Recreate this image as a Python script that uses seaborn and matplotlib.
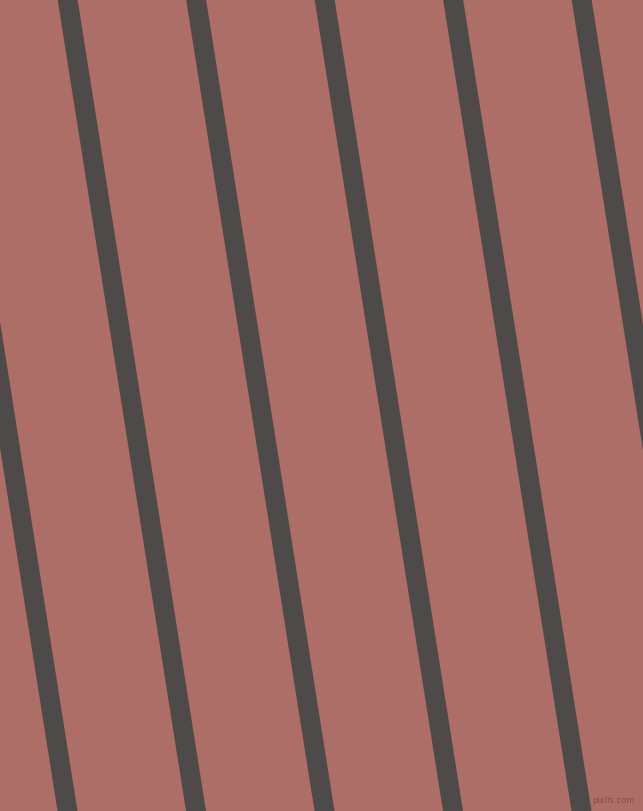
import numpy as np
import pandas as pd
import seaborn as sns
import matplotlib.pyplot as plt

# stripe centre positions (px), at the top and bottom edge
top_x = [-61, 67.5, 196, 324.5, 453, 581.5]
bottom_x = [67.5, 196, 324.5, 453, 581.5, 710]
y_top = 0
y_bottom = 812

bg_color = '#ad6e68'
stripe_color = '#4f4a4a'
half_w = 10  # horizontal half width of a stripe in px

# long form table: each stripe gets its left and right edge at top and bottom,
# the band between min and max is then drawn as the stripe
rows = []
for i, (xt, xb) in enumerate(zip(top_x, bottom_x)):
    for side in (-1, 1):
        rows.append({'stripe': i, 'x': xt + side * half_w, 'y': y_top})
        rows.append({'stripe': i, 'x': xb + side * half_w, 'y': y_bottom})
df = pd.DataFrame(rows)

sns.set_style('white')
fig = plt.figure(figsize=(6.43, 8.12), dpi=100)
ax = fig.add_axes([0, 0, 1, 1])
ax.set_facecolor(bg_color)
fig.patch.set_facecolor(bg_color)

sns.lineplot(data=df, x='x', y='y', hue='stripe', orient='y',
             palette=[stripe_color] * len(top_x), legend=False,
             errorbar=lambda v: (v.min(), v.max()),
             err_kws={'alpha': 1, 'linewidth': 0}, linewidth=0, ax=ax)

ax.set_xlim(0, 643)
ax.set_ylim(812, 0)
ax.axis('off')

# little watermark bottom right
ax.text(613, 801, 'pixlis.com', fontsize=6, color='#6a4746', alpha=0.8,
        ha='center', va='center')

fig.savefig('out.png', dpi=100, facecolor=bg_color)
